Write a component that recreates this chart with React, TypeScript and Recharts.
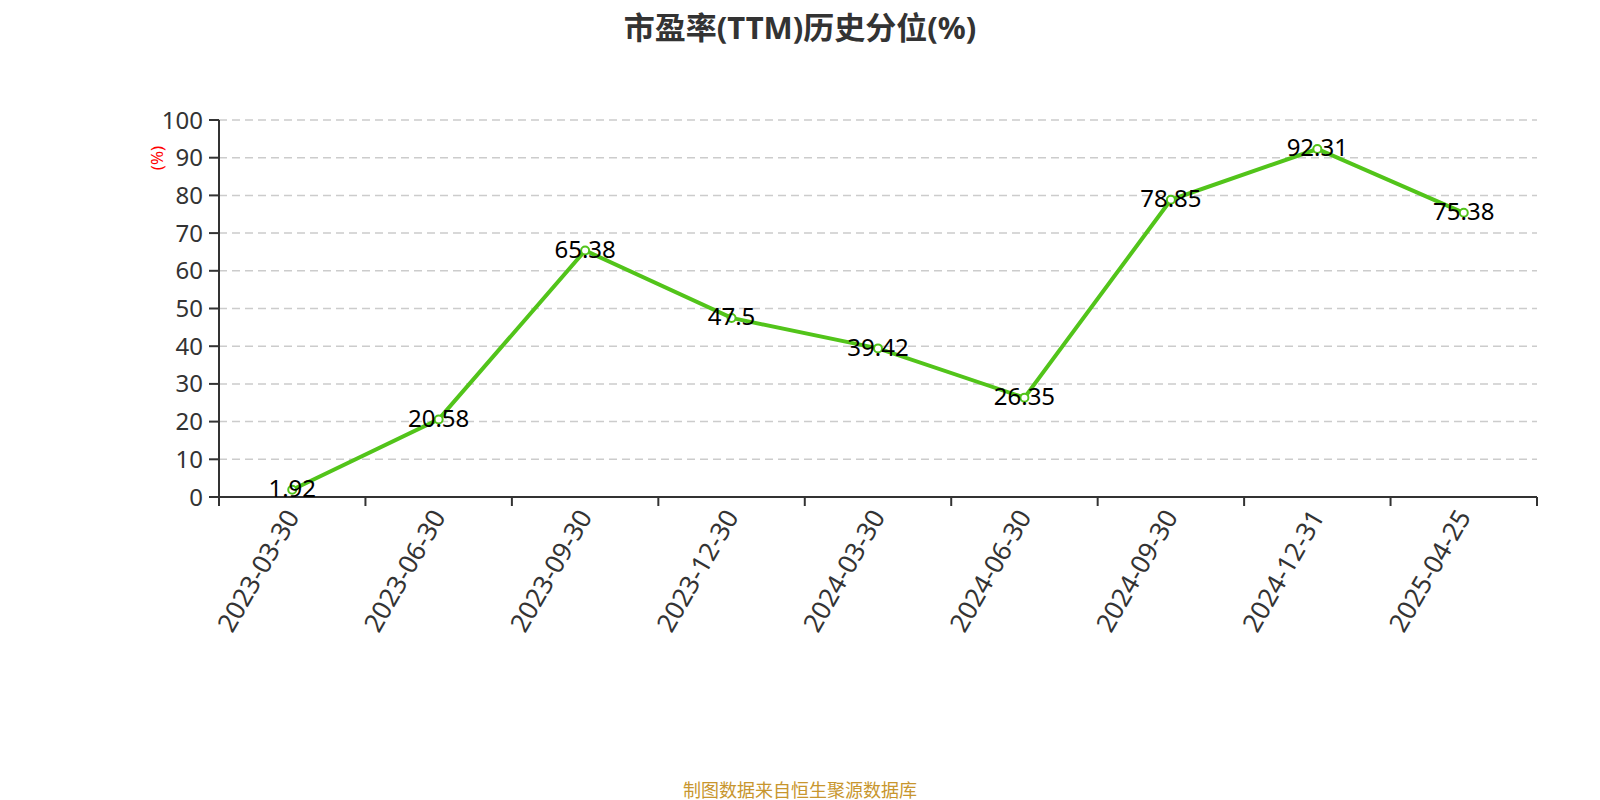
import { CartesianGrid, LabelList, Line, LineChart, XAxis, YAxis } from "recharts";

const dates = [
  "2023-03-30",
  "2023-06-30",
  "2023-09-30",
  "2023-12-30",
  "2024-03-30",
  "2024-06-30",
  "2024-09-30",
  "2024-12-31",
  "2025-04-25",
];
const percentiles = [1.92, 20.58, 65.38, 47.5, 39.42, 26.35, 78.85, 92.31, 75.38];
const yTicks = [0, 10, 20, 30, 40, 50, 60, 70, 80, 90, 100];

const FONT = '"Noto Sans", "Noto Sans CJK SC", sans-serif';
const LINE_COLOR = "#52c41a";

const data = dates.map((date, i) => ({ idx: i, date, value: percentiles[i] }));
const boundaryTicks = dates.map((_, i) => i - 0.5).concat(dates.length - 0.5);
const centerTicks = dates.map((_, i) => i);

function DateTick({ x, y, payload }: any) {
  const label = dates[payload.value] ?? "";
  return (
    <text
      x={x}
      y={y}
      dy="0.35em"
      textAnchor="end"
      fill="#333"
      fontSize={26}
      fontFamily={FONT}
      transform={`rotate(-60, ${x}, ${y})`}
    >
      {label}
    </text>
  );
}

// boundary axis only needs its tick marks, not text
function NoLabel() {
  return <g />;
}

function ValueLabel({ x, y, value }: any) {
  return (
    <text
      x={x}
      y={y}
      dy="0.3em"
      textAnchor="middle"
      fill="#000"
      fontSize={24}
      fontFamily={FONT}
    >
      {value}
    </text>
  );
}

export default function App() {
  return (
    <div
      style={{
        position: "absolute",
        left: 0,
        top: 0,
        width: 1600,
        height: 800,
        background: "#fff",
        fontFamily: FONT,
      }}
    >
      <div
        style={{
          position: "absolute",
          top: 3,
          width: 1600,
          textAlign: "center",
          fontSize: 31,
          fontWeight: "bold",
          color: "#333",
        }}
      >
        市盈率(TTM)历史分位(%)
      </div>
      <div
        style={{
          position: "absolute",
          left: 156,
          top: 158,
          color: "red",
          fontSize: 17,
          transform: "translate(-50%, -50%) rotate(-90deg)",
        }}
      >
        (%)
      </div>
      <LineChart
        width={1600}
        height={800}
        data={data}
        margin={{ top: 120, right: 63, left: 159, bottom: 172 }}
      >
        <CartesianGrid
          horizontal
          vertical={false}
          stroke="#ccc"
          strokeWidth={1.5}
          strokeDasharray="8 5"
        />
        {/* date labels at category centres */}
        <XAxis
          xAxisId="b"
          type="number"
          dataKey="idx"
          domain={[-0.5, dates.length - 0.5]}
          ticks={centerTicks}
          interval={0}
          height={130}
          axisLine={false}
          tickLine={false}
          tickSize={9}
          tickMargin={5}
          tick={<DateTick />}
        />
        {/* axis line with tick marks on category boundaries */}
        <XAxis
          xAxisId="a"
          type="number"
          dataKey="idx"
          domain={[-0.5, dates.length - 0.5]}
          ticks={boundaryTicks}
          interval={0}
          height={1}
          tick={<NoLabel />}
          tickSize={9}
          axisLine={{ stroke: "#333", strokeWidth: 2 }}
          tickLine={{ stroke: "#333", strokeWidth: 2 }}
        />
        <YAxis
          type="number"
          domain={[0, 100]}
          ticks={yTicks}
          interval={0}
          width={60}
          tickSize={10}
          tickMargin={6}
          axisLine={{ stroke: "#333", strokeWidth: 2 }}
          tickLine={{ stroke: "#333", strokeWidth: 2 }}
          tick={{ fill: "#333", fontSize: 24, fontFamily: FONT }}
        />
        <Line
          xAxisId="a"
          type="linear"
          dataKey="value"
          stroke={LINE_COLOR}
          strokeWidth={4}
          dot={{ r: 4, stroke: LINE_COLOR, strokeWidth: 2, fill: "#fff" }}
          isAnimationActive={false}
        >
          <LabelList dataKey="value" content={<ValueLabel />} />
        </Line>
      </LineChart>
      <div
        style={{
          position: "absolute",
          top: 776,
          width: 1600,
          textAlign: "center",
          fontSize: 18,
          color: "#c8962e",
        }}
      >
        制图数据来自恒生聚源数据库
      </div>
    </div>
  );
}
